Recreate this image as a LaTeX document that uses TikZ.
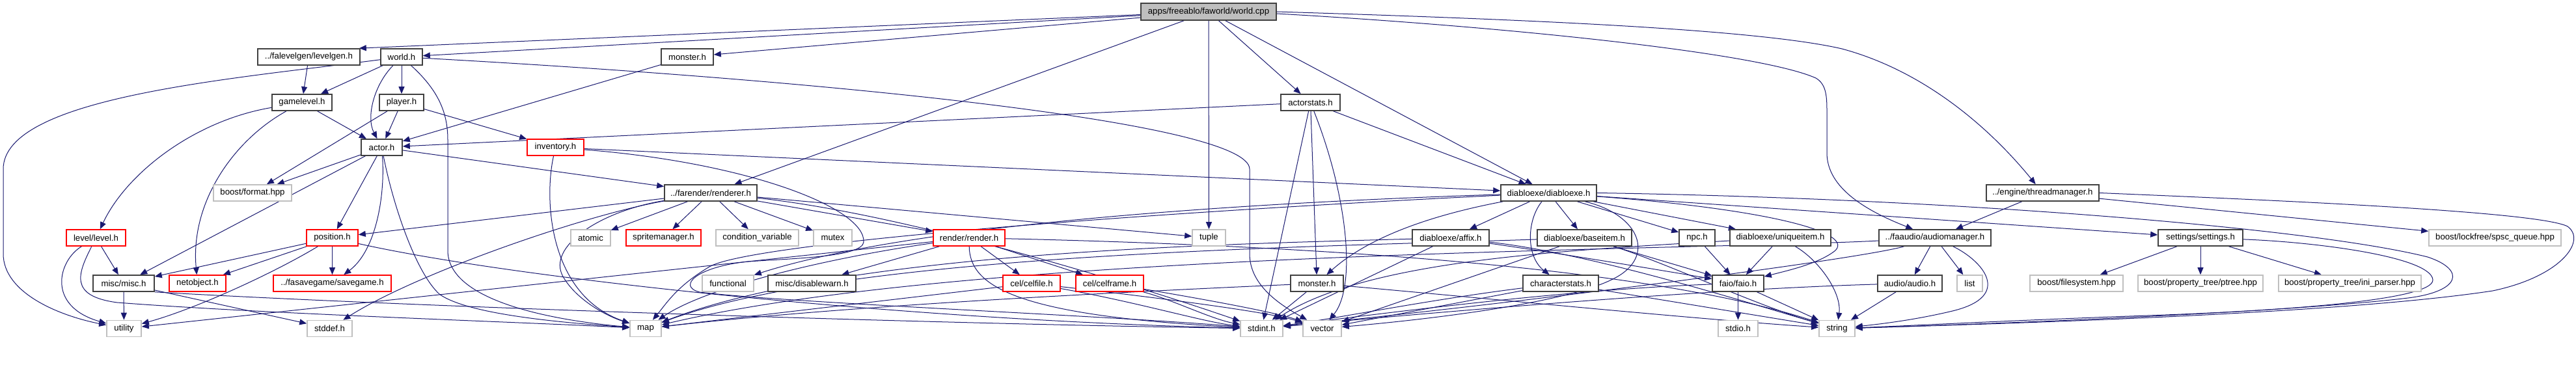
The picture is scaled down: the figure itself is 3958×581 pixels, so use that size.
\documentclass[tikz,border=0pt]{standalone}
\usepackage{fontspec}
\setmainfont{Liberation Sans}
\usetikzlibrary{arrows.meta}
\pgfdeclarelayer{bg}
\pgfsetlayers{bg,main}
\definecolor{edgec}{HTML}{191970}
\definecolor{nodeb}{HTML}{404040}
\definecolor{leafb}{HTML}{BFBFBF}
\definecolor{rootf}{HTML}{BFBFBF}
\definecolor{redb}{HTML}{FF0000}
\newcommand{\mknode}[6]{\node[#5,minimum width={(#3-#2)*0.5pt}] (#1) at ({(#2+#3)/2},#4) {#6};}
\begin{document}
\begin{tikzpicture}[x=0.5pt,y=-0.5pt,
  box/.style={draw=nodeb,line width=0.8pt,fill=white,inner sep=0pt,minimum height=12.5pt,font=\fontsize{6.6}{7}\selectfont},
  redbox/.style={box,draw=redb},
  leaf/.style={box,draw=leafb},
  rootbox/.style={box,fill=rootf,minimum height=13pt},
  conn/.style={draw=edgec,line width=0.5pt,-{Triangle[length=5.5pt,width=4.5pt]}}]
\useasboundingbox (0,0) rectangle (3958,581);
% nodes
\mknode{wcpp}{1753}{1961}{18}{rootbox}{apps/freeablo/faworld/world.cpp}
\mknode{levelgen}{396}{553}{87.5}{box}{../falevelgen/levelgen.h}
\mknode{worldh}{585}{649}{87.5}{box}{world.h}
\mknode{monsterA}{1016}{1096}{87.5}{box}{monster.h}
\mknode{gamelevel}{418}{510}{157.5}{box}{gamelevel.h}
\mknode{player}{583}{651}{157.5}{box}{player.h}
\mknode{actorstats}{1968}{2059}{157.5}{box}{actorstats.h}
\mknode{actor}{555}{618}{226.5}{box}{actor.h}
\mknode{inventory}{810}{897}{226.5}{redbox}{inventory.h}
\mknode{bformat}{328}{448}{296.5}{leaf}{boost/format.hpp}
\mknode{renderer}{1021}{1163}{296.5}{box}{../farender/renderer.h}
\mknode{diabloexe}{2306}{2453}{296.5}{box}{diabloexe/diabloexe.h}
\mknode{threadmgr}{3052}{3225}{296.5}{box}{../engine/threadmanager.h}
\mknode{level}{102}{193}{365.5}{redbox}{level/level.h}
\mknode{position}{471}{550}{365.5}{redbox}{position.h}
\mknode{atomic}{877}{938}{365.5}{leaf}{atomic}
\mknode{spritemgr}{962}{1077}{365.5}{redbox}{spritemanager.h}
\mknode{condvar}{1100}{1227}{365.5}{leaf}{condition\_variable}
\mknode{mutex}{1250}{1309}{365.5}{leaf}{mutex}
\mknode{render}{1434}{1544}{365.5}{redbox}{render/render.h}
\mknode{tuple}{1832}{1883}{365.5}{leaf}{tuple}
\mknode{affix}{2170}{2288}{365.5}{box}{diabloexe/affix.h}
\mknode{baseitem}{2362}{2507}{365.5}{box}{diabloexe/baseitem.h}
\mknode{npc}{2580}{2635}{365.5}{box}{npc.h}
\mknode{uniqueitem}{2658}{2813}{365.5}{box}{diabloexe/uniqueitem.h}
\mknode{audiomgr}{2887}{3059}{365.5}{box}{../faaudio/audiomanager.h}
\mknode{settings}{3316}{3446}{365.5}{box}{settings/settings.h}
\mknode{spsc}{3732}{3935}{365.5}{leaf}{boost/lockfree/spsc\_queue.hpp}
\mknode{misc}{143}{237}{435.5}{box}{misc/misc.h}
\mknode{netobject}{260}{347}{435.5}{redbox}{netobject.h}
\mknode{savegame}{420}{601}{435.5}{redbox}{../fasavegame/savegame.h}
\mknode{functional}{1079}{1158}{435.5}{leaf}{functional}
\mknode{disablewarn}{1180}{1315}{435.5}{box}{misc/disablewarn.h}
\mknode{celfile}{1541}{1629}{435.5}{redbox}{cel/celfile.h}
\mknode{celframe}{1653}{1757}{435.5}{redbox}{cel/celframe.h}
\mknode{monsterB}{1983}{2064}{435.5}{box}{monster.h}
\mknode{charstats}{2340}{2456}{435.5}{box}{characterstats.h}
\mknode{faio}{2631}{2710}{435.5}{box}{faio/faio.h}
\mknode{audio}{2885}{2984}{435.5}{box}{audio/audio.h}
\mknode{list}{3007}{3046}{435.5}{leaf}{list}
\mknode{filesystem}{3119}{3262}{435.5}{leaf}{boost/filesystem.hpp}
\mknode{ptree}{3285}{3477}{435.5}{leaf}{boost/property\_tree/ptree.hpp}
\mknode{iniparser}{3501}{3720}{435.5}{leaf}{boost/property\_tree/ini\_parser.hpp}
\mknode{utility}{164}{217}{505}{leaf}{utility}
\mknode{stddef}{472}{541}{505}{leaf}{stddef.h}
\mknode{map}{968}{1016}{505}{leaf}{map}
\mknode{stdint}{1906}{1971}{505}{leaf}{stdint.h}
\mknode{vector}{2002}{2061}{505}{leaf}{vector}
\mknode{stdio}{2640}{2701}{505}{leaf}{stdio.h}
\mknode{string}{2795}{2850}{505}{leaf}{string}
\begin{pgfonlayer}{bg}
\fill[white] (0,0) rectangle (3958,581);
% world.cpp
\draw[conn] (wcpp) -- ([xshift=-1pt]levelgen.north east);
\draw[conn] (wcpp) -- (worldh);
\draw[conn] (wcpp) -- (monsterA);
\draw[conn] (wcpp) -- (renderer);
\draw[conn] (wcpp) -- (tuple);
\draw[conn] (wcpp) -- (actorstats);
\draw[conn] (wcpp) -- (diabloexe);
\draw[conn] (wcpp.east) .. controls (2350,30) and (2700,45) .. (2830,75) .. controls (2960,110) and (3060,200) .. (threadmgr);
\draw[conn] ([yshift=-1.5pt]wcpp.east) .. controls (2300,40) and (2700,80) .. (2790,120) .. controls (2807,130) and (2807,150) .. (2807,175) -- (2807,235) .. controls (2807,290) and (2870,325) .. (audiomgr);
% world.h
\draw[conn] (worldh) -- (gamelevel);
\draw[conn] (worldh) .. controls (350,122) and (5,150) .. (5,260) -- (5,390) .. controls (5,450) and (90,485) .. (utility);
\draw[conn] (worldh) -- (player);
\draw[conn] (worldh) .. controls (575,130) and (562,180) .. (actor);
\draw[conn] (worldh) .. controls (675,140) and (688,175) .. (688,215) -- (688,385) .. controls (688,470) and (880,495) .. (map);
\draw[conn] (worldh) .. controls (1300,125) and (1920,190) .. (1920,260) -- (1920,390) .. controls (1920,440) and (1970,470) .. (vector);
% levelgen, monster
\draw[conn] (levelgen) -- (gamelevel);
\draw[conn] (monsterA) -- (actor);
% gamelevel
\draw[conn] (gamelevel) .. controls (300,185) and (195,265) .. (level);
\draw[conn] (gamelevel) .. controls (360,215) and (292,310) .. (netobject);
\draw[conn] (gamelevel) -- (actor);
% player
\draw[conn] (player) -- (actor);
\draw[conn] (player) -- (inventory);
\draw[conn] (player) -- (bformat);
% actorstats
\draw[conn] (actorstats) -- (actor);
\draw[conn] (actorstats) -- (monsterB);
\draw[conn] (actorstats) -- (stdint);
\draw[conn] (actorstats) .. controls (2070,300) and (2085,440) .. (vector);
\draw[conn] (actorstats) -- (diabloexe);
% actor
\draw[conn] (actor) -- (bformat);
\draw[conn] (actor) -- (misc);
\draw[conn] (actor) -- (position);
\draw[conn] (actor) .. controls (592,300) and (578,385) .. (savegame);
\draw[conn] (actor) .. controls (605,320) and (640,420) .. (675,452) .. controls (720,485) and (880,497) .. (map);
\draw[conn] (actor) -- (renderer);
% inventory
\draw[conn] (inventory) .. controls (835,310) and (845,455) .. (map);
\draw[conn] (inventory) -- (diabloexe);
\draw[conn] (inventory) .. controls (1150,250) and (1330,320) .. (1327,372) .. controls (1325,395) and (1220,397) .. (1150,402) .. controls (1070,410) and (1040,440) .. (1075,449) .. controls (1200,465) and (1700,485) .. (stdint);
% renderer
\draw[conn] (renderer) -- (position);
\draw[conn] (renderer) .. controls (900,330) and (640,420) .. (stddef);
\draw[conn] (renderer) .. controls (920,325) and (840,380) .. (865,425) .. controls (885,460) and (930,485) .. (map);
\draw[conn] (renderer) -- (atomic);
\draw[conn] (renderer) -- (spritemgr);
\draw[conn] (renderer) -- (condvar);
\draw[conn] (renderer) -- (mutex);
\draw[conn] (renderer) -- (render);
\draw[conn] (renderer) -- (tuple);
\draw[conn] (renderer) .. controls (1400,330) and (1750,440) .. (stdint);
% position
\draw[conn] (position) -- (misc);
\draw[conn] (position) -- (netobject);
\draw[conn] (position) .. controls (420,420) and (300,475) .. (utility);
\draw[conn] (position) -- (savegame);
\draw[conn] (position) .. controls (800,430) and (1400,492) .. (stdint);
% level
\draw[conn] (level) -- (misc);
\draw[conn] (level) .. controls (90,400) and (70,470) .. (utility);
\draw[conn] (level) .. controls (120,420) and (105,455) .. (180,465) .. controls (400,482) and (800,495) .. (map);
% misc
\draw[conn] (misc) -- (utility);
\draw[conn] (misc) -- (stddef);
\draw[conn] (misc.south east) .. controls (600,470) and (1400,497) .. (stdint);
% render
\draw[conn] (render) -- (disablewarn);
\draw[conn] (render) -- (celfile);
\draw[conn] (render) -- (celframe);
\draw[conn] (render) -- (utility);
\draw[conn] (render) .. controls (1250,400) and (1080,445) .. (map);
\draw[conn] (render) .. controls (1490,440) and (1560,485) .. (stdint);
\draw[conn] (render) .. controls (1900,375) and (2500,400) .. (string);
% cel
\draw[conn] (celfile) -- (map);
\draw[conn] (celfile) .. controls (1750,465) and (1850,495) .. (stdint);
\draw[conn] (celfile) .. controls (1800,460) and (1950,480) .. (vector);
\draw[conn] (celframe) .. controls (1800,460) and (1860,490) .. (stdint);
\draw[conn] (celframe) .. controls (1850,460) and (1960,480) .. (vector);
% diabloexe
\draw[conn] (diabloexe) .. controls (1900,312) and (1400,345) .. (functional);
\draw[conn] (diabloexe) .. controls (2150,340) and (2080,385) .. (monsterB);
\draw[conn] (diabloexe) -- (affix);
\draw[conn] (diabloexe) .. controls (2345,340) and (2345,395) .. (charstats);
\draw[conn] (diabloexe) -- (baseitem);
\draw[conn] (diabloexe) -- (npc);
\draw[conn] (diabloexe) -- (uniqueitem);
\draw[conn] (diabloexe) .. controls (2700,320) and (2850,355) .. (2820,385) .. controls (2795,405) and (2750,415) .. (faio);
\draw[conn] (diabloexe) -- (settings);
\draw[conn] (diabloexe.east) .. controls (3000,305) and (3550,350) .. (3730,395) .. controls (3790,415) and (3780,448) .. (3700,458) .. controls (3500,482) and (3000,500) .. (string);
\draw[conn] (diabloexe) .. controls (2520,330) and (2545,395) .. (2480,428) .. controls (2400,470) and (2150,495) .. (vector);
\draw[conn] (diabloexe) .. controls (1700,330) and (1150,375) .. (1090,410) .. controls (1040,440) and (1025,465) .. (map);
% threadmanager
\draw[conn] (threadmgr) -- (audiomgr);
\draw[conn] (threadmgr) -- (spsc);
\draw[conn] (threadmgr.east) .. controls (3500,308) and (3900,325) .. (3945,348) .. controls (3975,370) and (3935,425) .. (3830,447) .. controls (3600,482) and (3100,497) .. (string);
% settings
\draw[conn] (settings) -- (filesystem);
\draw[conn] (settings) -- (ptree);
\draw[conn] (settings) -- (iniparser);
\draw[conn] (settings) .. controls (3560,372) and (3735,395) .. (3738,430) .. controls (3740,462) and (3500,478) .. (3300,485) .. controls (3100,492) and (2950,500) .. (string);
% audiomanager
\draw[conn] (audiomgr) -- (audio);
\draw[conn] (audiomgr) -- (list);
\draw[conn] (audiomgr) .. controls (3045,400) and (3095,455) .. (3000,478) .. controls (2950,490) and (2900,497) .. (string);
\draw[conn] (audiomgr) .. controls (2850,400) and (2300,470) .. (stdint);
\draw[conn] (audiomgr) .. controls (2600,385) and (1500,385) .. (map);
% audio, faio
\draw[conn] (audio) -- (string);
\draw[conn] (audio) .. controls (2600,445) and (2150,485) .. (stdint);
\draw[conn] (faio) -- (stdio);
\draw[conn] (faio) -- (string);
\draw[conn] (faio) .. controls (2400,445) and (2100,485) .. (stdint);
% npc, uniqueitem
\draw[conn] (npc) -- (faio);
\draw[conn] (uniqueitem) -- (faio);
\draw[conn] (uniqueitem) .. controls (2795,400) and (2830,450) .. (string);
\draw[conn] (uniqueitem) .. controls (2400,385) and (2100,400) .. (stdint);
% affix
\draw[conn] (affix) .. controls (2400,390) and (2550,415) .. (faio);
\draw[conn] (affix) .. controls (2450,390) and (2700,470) .. (string);
\draw[conn] (affix) -- (stdint);
\draw[conn] (affix) .. controls (1900,375) and (1300,385) .. (map);
% baseitem
\draw[conn] (baseitem) -- (faio);
\draw[conn] (baseitem) .. controls (2550,400) and (2700,470) .. (string);
\draw[conn] (baseitem) -- (vector);
\draw[conn] (baseitem) .. controls (2000,380) and (1300,390) .. (map);
% characterstats
\draw[conn] (charstats) .. controls (2200,460) and (2050,490) .. (stdint);
\draw[conn] (charstats) -- (string);
\draw[conn] (charstats) -- (vector);
% monster (second)
\draw[conn] (monsterB) .. controls (1700,450) and (1300,470) .. (map);
\draw[conn] (monsterB) -- (stdint);
\draw[conn] (monsterB) .. controls (2300,460) and (2600,490) .. (string);
\end{pgfonlayer}
\end{tikzpicture}
\end{document}
